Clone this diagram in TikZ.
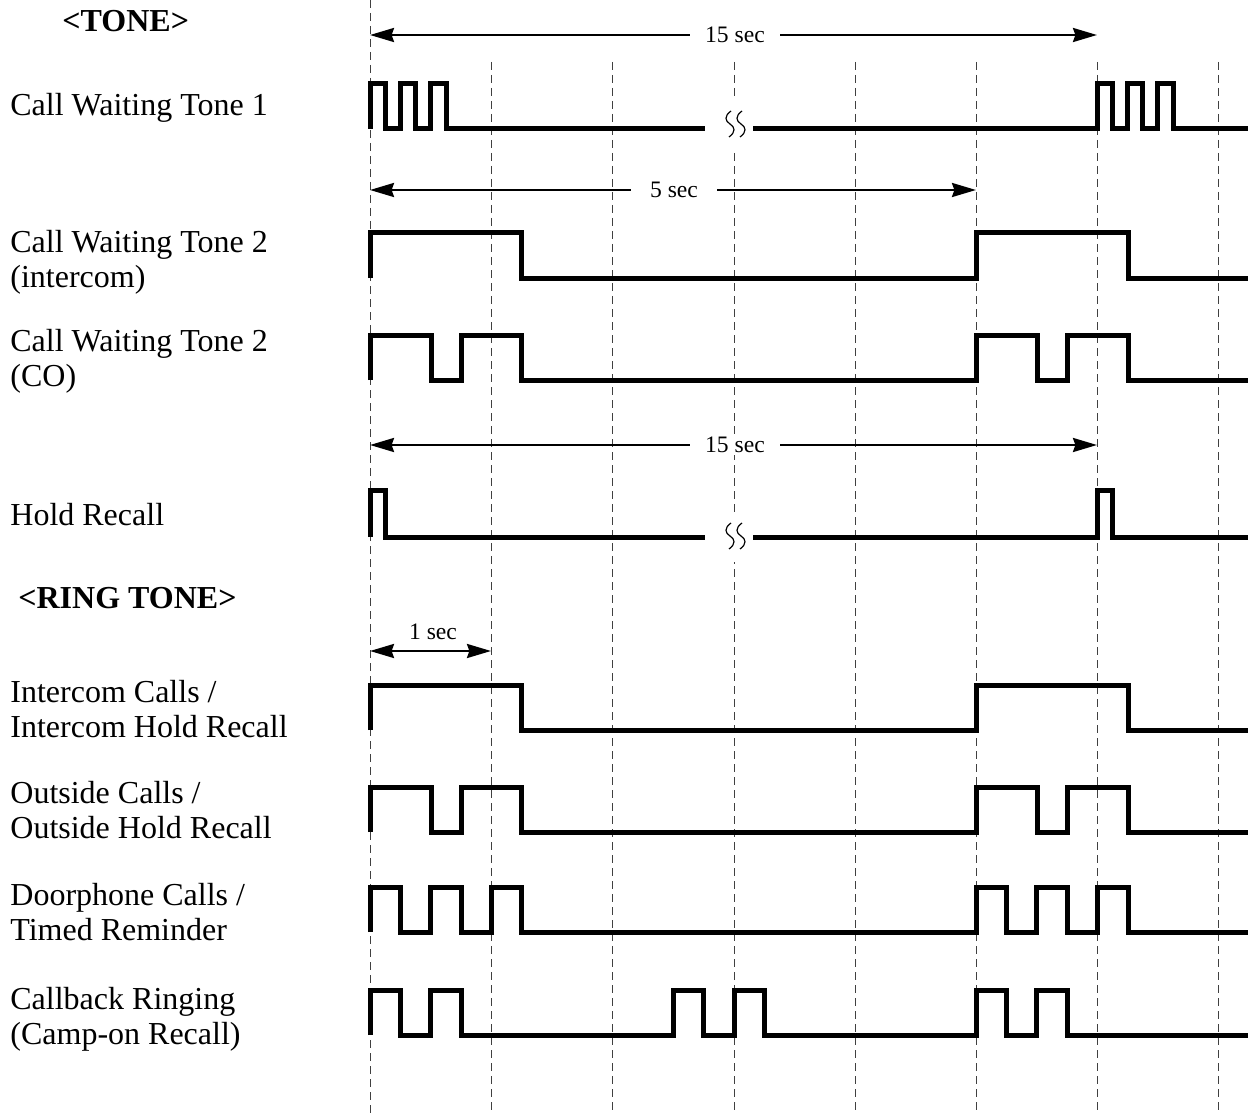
\documentclass[tikz,border=0pt]{standalone}
\usepackage{fontspec}
\setmainfont{Liberation Serif}
\usetikzlibrary{arrows.meta}
\tikzset{
  lbl/.style={anchor=base west, inner sep=0pt, font=\fontsize{16}{17.5}\selectfont},
  hdr/.style={anchor=base west, inner sep=0pt, font=\fontsize{16}{17.5}\selectfont\bfseries},
  dur/.style={fill=white, inner ysep=1pt, font=\fontsize{11.8}{13}\selectfont},
  grid/.style={black!75, line width=0.5pt, dash pattern=on 4pt off 2.5pt},
  sig/.style={line width=2.5pt, line join=miter, line cap=butt},
  tip/.tip={Stealth[length=12pt,width=7pt,inset=1.2pt]},
  dim/.style={line width=1.2pt, -tip},
  brk/.style={line width=0.6pt},
}
\begin{document}
\begin{tikzpicture}[x=0.5pt,y=-0.5pt]
\useasboundingbox (0,0) rectangle (1254,1113);

% grid
\draw[grid] (370,0) -- (370,1113);
\foreach \gx in {491,612,734,855,976,1097,1218}
  \draw[grid] (\gx,62) -- (\gx,1113);

% break masks and squiggles
\foreach \by in {124,536}{
  \fill[white] (708,\by-24) rectangle (750,\by+26);
  \foreach \bx in {730,741}
    \draw[brk] (\bx+1,\by-13) .. controls (\bx-6,\by-8) and (\bx-5,\by-3) .. (\bx,\by)
               .. controls (\bx+5,\by+3) and (\bx+6,\by+8) .. (\bx-1,\by+13);
}

% labels
\node[hdr] (htone) at (62,32) {<TONE>};
\node[lbl] (l1) at (10,116) {Call Waiting Tone 1};
\node[lbl] (l2a) at (10,252) {Call Waiting Tone 2};
\node[lbl] (l2b) at (10,287) {(intercom)};
\node[lbl] (l3a) at (10,351) {Call Waiting Tone 2};
\node[lbl] (l3b) at (10,386) {(CO)};
\node[lbl] (l4) at (10,525) {Hold Recall};
\node[hdr] (hring) at (18,608) {<RING TONE>};
\node[lbl] (l5a) at (10,702) {Intercom Calls /};
\node[lbl] (l5b) at (10,737) {Intercom Hold Recall};
\node[lbl] (l6a) at (10,803) {Outside Calls /};
\node[lbl] (l6b) at (10,838) {Outside Hold Recall};
\node[lbl] (l7a) at (10,905) {Doorphone Calls /};
\node[lbl] (l7b) at (10,940) {Timed Reminder};
\node[lbl] (l8a) at (10,1009) {Callback Ringing};
\node[lbl] (l8b) at (10,1044) {(Camp-on Recall)};

% dimension arrows
\coordinate (d1s) at (370,35); \coordinate (d1e) at (1097,35);
\node[dur, inner xsep=7.5pt] (t1) at (735,35) {15 sec};
\draw[dim] (t1) -- (d1s); \draw[dim] (t1) -- (d1e);

\coordinate (d2s) at (370,190); \coordinate (d2e) at (976,190);
\node[dur, inner xsep=9.5pt] (t2) at (674,190) {5 sec};
\draw[dim] (t2) -- (d2s); \draw[dim] (t2) -- (d2e);

\coordinate (d3s) at (370,445); \coordinate (d3e) at (1097,445);
\node[dur, inner xsep=7.5pt] (t3) at (735,445) {15 sec};
\draw[dim] (t3) -- (d3s); \draw[dim] (t3) -- (d3e);

\coordinate (d4s) at (370,651); \coordinate (d4e) at (491,651);
\node[dur, fill=none] (t4) at (433,632) {1 sec};
\draw[line width=1.2pt, tip-tip] (d4s) -- (d4e);

% Call Waiting Tone 1
\draw[sig] (370,129) -- (370,84) -- (385,84) -- (385,129) -- (400,129) -- (400,84) -- (415,84) -- (415,129)
  -- (430,129) -- (430,84) -- (446,84) -- (446,129) -- (705,129);
\draw[sig] (753,129) -- (1097,129) -- (1097,84) -- (1112,84) -- (1112,129) -- (1127,129) -- (1127,84)
  -- (1142,84) -- (1142,129) -- (1157,129) -- (1157,84) -- (1173,84) -- (1173,129) -- (1248,129);

% Call Waiting Tone 2 (intercom)
\draw[sig] (370,278) -- (370,232) -- (521,232) -- (521,278) -- (976,278) -- (976,232) -- (1128,232) -- (1128,278) -- (1248,278);

% Call Waiting Tone 2 (CO)
\draw[sig] (370,380) -- (370,335) -- (431,335) -- (431,380) -- (461,380) -- (461,335) -- (521,335) -- (521,380)
  -- (976,380) -- (976,335) -- (1037,335) -- (1037,380) -- (1067,380) -- (1067,335) -- (1128,335) -- (1128,380) -- (1248,380);

% Hold Recall
\draw[sig] (370,537) -- (370,490) -- (385,490) -- (385,537) -- (705,537);
\draw[sig] (753,537) -- (1097,537) -- (1097,490) -- (1112,490) -- (1112,537) -- (1248,537);

% Intercom Calls
\draw[sig] (370,730) -- (370,685) -- (521,685) -- (521,730) -- (976,730) -- (976,685) -- (1128,685) -- (1128,730) -- (1248,730);

% Outside Calls
\draw[sig] (370,832) -- (370,787) -- (431,787) -- (431,832) -- (461,832) -- (461,787) -- (521,787) -- (521,832)
  -- (976,832) -- (976,787) -- (1037,787) -- (1037,832) -- (1067,832) -- (1067,787) -- (1128,787) -- (1128,832) -- (1248,832);

% Doorphone Calls
\draw[sig] (370,932) -- (370,887) -- (400,887) -- (400,932) -- (430,932) -- (430,887) -- (461,887) -- (461,932)
  -- (491,932) -- (491,887) -- (521,887) -- (521,932) -- (976,932) -- (976,887) -- (1006,887) -- (1006,932)
  -- (1036,932) -- (1036,887) -- (1067,887) -- (1067,932) -- (1097,932) -- (1097,887) -- (1128,887) -- (1128,932) -- (1248,932);

% Callback Ringing
\draw[sig] (370,1035) -- (370,990) -- (400,990) -- (400,1035) -- (430,1035) -- (430,990) -- (461,990) -- (461,1035)
  -- (673,1035) -- (673,990) -- (703,990) -- (703,1035) -- (734,1035) -- (734,990) -- (764,990) -- (764,1035)
  -- (976,1035) -- (976,990) -- (1006,990) -- (1006,1035) -- (1036,1035) -- (1036,990) -- (1067,990) -- (1067,1035) -- (1248,1035);
\end{tikzpicture}
\end{document}
